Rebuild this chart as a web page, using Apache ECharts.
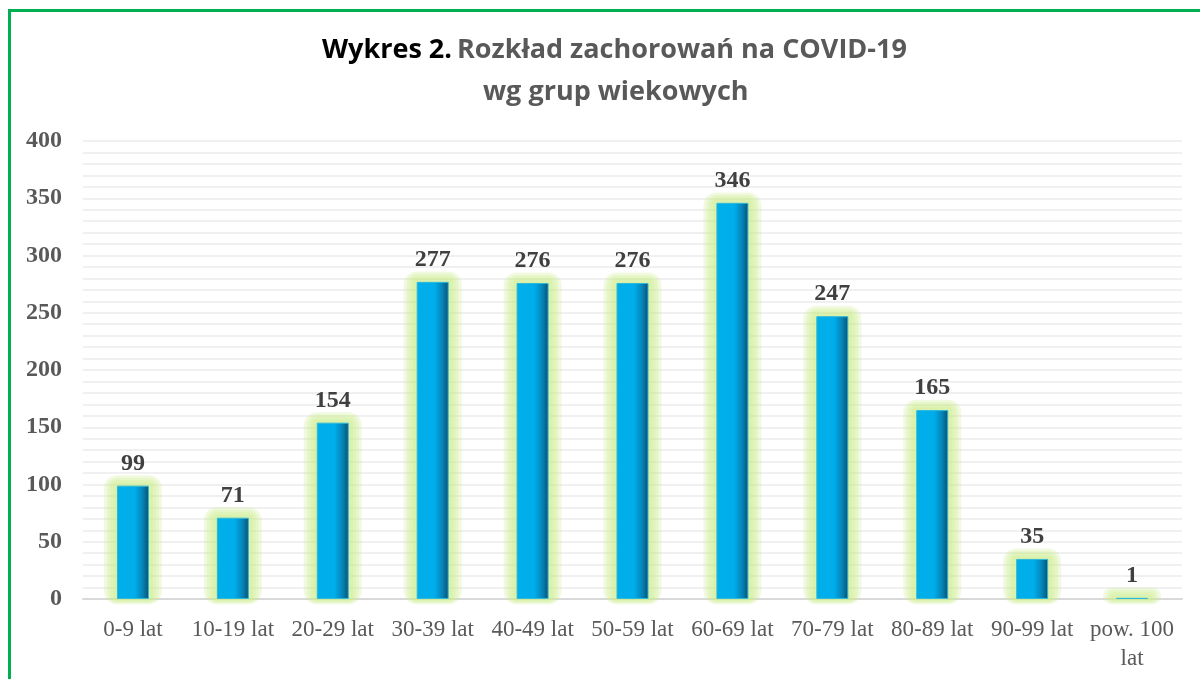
<!DOCTYPE html>
<html>
<head>
<meta charset="utf-8">
<script src="https://cdn.jsdelivr.net/npm/echarts@6/dist/echarts.min.js"></script>
<style>
html, body { margin: 0; padding: 0; background: #fff; }
#frame {
    position: absolute; left: 8px; top: 9px;
    width: 1200px; height: 700px;
    border: 3px solid #00b050;
    box-sizing: border-box;
}
#myChart { position: absolute; left: 0; top: 0; width: 1200px; height: 679px; }
</style>
</head>
<body>
<div id="frame"></div>
<div id="myChart"></div>
<script>
// dane
let categories = ['0-9 lat', '10-19 lat', '20-29 lat', '30-39 lat', '40-49 lat', '50-59 lat',
    '60-69 lat', '70-79 lat', '80-89 lat', '90-99 lat', 'pow. 100\nlat']
let cases = [99, 71, 154, 277, 276, 276, 346, 247, 165, 35, 1]
let yTicks = [0, 50, 100, 150, 200, 250, 300, 350, 400]

let myChart = echarts.init(document.getElementById('myChart'))

let titleFont = { fontSize: 27, fontWeight: 'bold', fontFamily: 'Open Sans' }

// poświata wokół słupka - kilka warstw o malejącej szerokości
function renderGlow(params, api) {
    let top = api.coord([api.value(0), api.value(1)])
    let base = api.coord([api.value(0), 0])
    let half = 16
    let pads = [13, 10, 7, 4]
    return {
        type: 'group',
        children: pads.map(p => ({
            type: 'rect',
            shape: {
                x: top[0] - half - p,
                y: top[1] - p * 0.8,
                width: 2 * (half + p),
                height: base[1] - top[1] + p * 0.8 + p * 0.4,
                r: p
            },
            style: { fill: 'rgba(205, 236, 140, 0.27)' }
        }))
    }
}

let option = {
    animation: false,
    title: [
        {
            text: '{a|Wykres 2.} {b|Rozkład zachorowań na COVID-19}',
            left: 317,
            top: 32,
            textStyle: {
                rich: {
                    a: Object.assign({ color: '#000' }, titleFont),
                    b: Object.assign({ color: '#595959' }, titleFont)
                }
            }
        },
        {
            text: 'wg grup wiekowych',
            left: 478,
            top: 74,
            textStyle: Object.assign({ color: '#595959' }, titleFont)
        }
    ],
    grid: {
        left: 83,
        right: 18,
        top: 141,
        bottom: 80
    },
    xAxis: {
        type: 'category',
        data: categories,
        axisTick: { show: false },
        axisLine: { lineStyle: { color: '#d9d9d9', width: 2 } },
        axisLabel: {
            color: '#595959',
            fontSize: 23,
            fontFamily: 'Liberation Serif',
            margin: 16,
            lineHeight: 29,
            interval: 0
        }
    },
    yAxis: {
        type: 'value',
        min: 0,
        max: 400,
        interval: 10,
        axisLine: { show: false },
        axisTick: { show: false },
        splitLine: { lineStyle: { color: '#f0f0f0', width: 2 } },
        axisLabel: {
            color: '#595959',
            fontSize: 24,
            fontWeight: 'bold',
            fontFamily: 'Liberation Serif',
            margin: 21,
            formatter: function (v) {
                return yTicks.indexOf(v) >= 0 ? String(v) : ''
            }
        }
    },
    series: [
        {
            type: 'custom',
            renderItem: renderGlow,
            data: cases.map((v, i) => [i, v]),
            silent: true,
            clip: false,
            z: 1
        },
        {
            type: 'bar',
            data: cases,
            barWidth: 32,
            z: 2,
            itemStyle: {
                color: new echarts.graphic.LinearGradient(0, 0, 1, 0, [
                    { offset: 0, color: '#00aee8' },
                    { offset: 0.55, color: '#00aeec' },
                    { offset: 0.8, color: '#0585b8' },
                    { offset: 1, color: '#0a4f72' }
                ]),
                borderColor: '#2fb8d8',
                borderWidth: 1
            },
            label: {
                show: true,
                position: 'top',
                distance: 10,
                color: '#404040',
                fontSize: 24,
                fontWeight: 'bold',
                fontFamily: 'Liberation Serif'
            }
        }
    ]
}
myChart.setOption(option)
</script>
</body>
</html>
